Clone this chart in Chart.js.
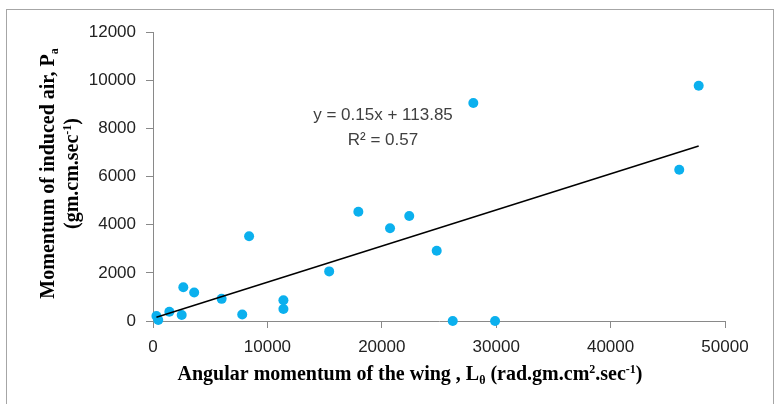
<!DOCTYPE html>
<html>
<head>
<meta charset="utf-8">
<script src="https://cdn.jsdelivr.net/npm/chart.js@4/dist/chart.umd.min.js"></script>
<style>
  html, body { margin: 0; padding: 0; background: #fff; }
  #wrap { width: 779px; height: 404px; position: relative; }
</style>
</head>
<body>
<div id="wrap"><canvas id="c" width="779" height="404"></canvas></div>
<script>
// ---- data ----
const angularMomentum = [300, 460, 1430, 2510, 2650, 3600, 6000, 7800, 8400, 11400, 11400, 15400, 17950, 20720, 22400, 24800, 26200, 29900, 28000, 46000, 47700];
const airMomentum     = [210, 40, 385, 250, 1400, 1180, 920, 270, 3520, 860, 500, 2060, 4540, 3850, 4360, 2920, 0, 0, 9050, 6280, 9770];
const trendSlope = 0.15;
const trendIntercept = 113.85;
const trendR2 = 0.57;
const xTicks = [0, 10000, 20000, 30000, 40000, 50000];
const yTicks = [0, 2000, 4000, 6000, 8000, 10000, 12000];

const points = angularMomentum.map((x, i) => ({ x: x, y: airMomentum[i] }));
const xMin = Math.min(...angularMomentum), xMax = Math.max(...angularMomentum);
const trend = [
  { x: xMin, y: trendSlope * xMin + trendIntercept },
  { x: xMax, y: trendSlope * xMax + trendIntercept }
];

const tickFont = "'Liberation Sans', Arial, sans-serif";
const serif = "'Liberation Serif', 'Times New Roman', serif";

function drawRuns(ctx, runs, cx, baseY, size, family) {
  const small = Math.round(size * 0.62);
  let total = 0;
  const widths = runs.map(r => {
    ctx.font = 'bold ' + (r.s ? small : size) + 'px ' + family;
    const w = ctx.measureText(r.t).width;
    total += w;
    return w;
  });
  let x = cx - total / 2;
  runs.forEach((r, i) => {
    ctx.font = 'bold ' + (r.s ? small : size) + 'px ' + family;
    let dy = 0;
    if (r.s === 'sub') dy = size * 0.22;
    if (r.s === 'sup') dy = -size * 0.36;
    ctx.fillText(r.t, x, baseY + dy);
    x += widths[i];
  });
}

const decorPlugin = {
  id: 'decor',
  beforeDraw(chart) {
    const ctx = chart.ctx;
    ctx.save();
    ctx.fillStyle = '#ffffff';
    ctx.fillRect(0, 0, chart.width, chart.height);
    ctx.strokeStyle = '#a6a6a6';
    ctx.lineWidth = 1;
    ctx.strokeRect(6.5, 9.5, 767, 430);
    ctx.restore();
  },
  afterDraw(chart) {
    const ctx = chart.ctx;
    const xs = chart.scales.x, ys = chart.scales.y;
    ctx.save();
    ctx.fillStyle = '#000';
    ctx.textAlign = 'left';
    ctx.textBaseline = 'alphabetic';
    // x-axis title
    drawRuns(ctx, [
      { t: 'Angular momentum of the wing , L' },
      { t: '\u03B8', s: 'sub' },
      { t: ' (rad.gm.cm' },
      { t: '2', s: 'sup' },
      { t: '.sec' },
      { t: '-1', s: 'sup' },
      { t: ')' }
    ], 410, 380, 20, serif);
    // y-axis title (rotated)
    const cy = (ys.top + ys.bottom) / 2 - 3;
    ctx.translate(0, cy);
    ctx.rotate(-Math.PI / 2);
    drawRuns(ctx, [
      { t: 'Momentum of induced air, P' },
      { t: 'a', s: 'sub' }
    ], 0, 54, 20, serif);
    drawRuns(ctx, [
      { t: '(gm.cm.sec' },
      { t: '-1', s: 'sup' },
      { t: ')' }
    ], 0, 78, 20, serif);
    ctx.restore();
    // trendline label
    ctx.save();
    ctx.fillStyle = '#404040';
    ctx.textAlign = 'center';
    ctx.textBaseline = 'alphabetic';
    ctx.font = '17px ' + tickFont;
    ctx.fillText('y = ' + trendSlope.toFixed(2) + 'x + ' + trendIntercept.toFixed(2), 383, 120);
    ctx.fillText('R\u00B2 = ' + trendR2.toFixed(2), 383, 145);
    ctx.restore();
  }
};

new Chart(document.getElementById('c'), {
  type: 'scatter',
  data: {
    datasets: [
      {
        label: 'data',
        data: points,
        backgroundColor: '#0BB0EE',
        borderColor: '#0BB0EE',
        pointRadius: 5,
        pointHoverRadius: 5,
        borderWidth: 0,
        clip: false,
        order: 1
      },
      {
        label: 'trend',
        type: 'line',
        data: trend,
        showLine: true,
        borderColor: '#000',
        borderWidth: 1.5,
        pointRadius: 0,
        fill: false,
        order: 0
      }
    ]
  },
  options: {
    responsive: false,
    animation: false,
    devicePixelRatio: 1,
    layout: { padding: { top: 32, right: 54, left: 0, bottom: 0 } },
    plugins: { legend: { display: false }, tooltip: { enabled: false } },
    scales: {
      x: {
        type: 'linear',
        min: 0, max: 50000,
        afterFit(s) { s.height = 83; },
        afterBuildTicks(s) { s.ticks = xTicks.map(v => ({ value: v })); },
        border: { display: true, color: '#898989', width: 1 },
        grid: { display: true, drawOnChartArea: false, drawTicks: true, tickLength: 7, color: '#898989' },
        ticks: { color: '#222', font: { family: tickFont, size: 17 }, padding: 9, maxRotation: 0, autoSkip: false,
                 callback: v => String(v) }
      },
      y: {
        type: 'linear',
        min: 0, max: 12000,
        afterFit(s) { s.width = 153; },
        afterBuildTicks(s) { s.ticks = yTicks.map(v => ({ value: v })); },
        border: { display: true, color: '#898989', width: 1 },
        grid: { display: true, drawOnChartArea: false, drawTicks: true, tickLength: 7, color: '#898989' },
        ticks: { color: '#222', font: { family: tickFont, size: 17 }, padding: 10, autoSkip: false,
                 callback: v => String(v) }
      }
    }
  },
  plugins: [decorPlugin]
});
</script>
</body>
</html>
